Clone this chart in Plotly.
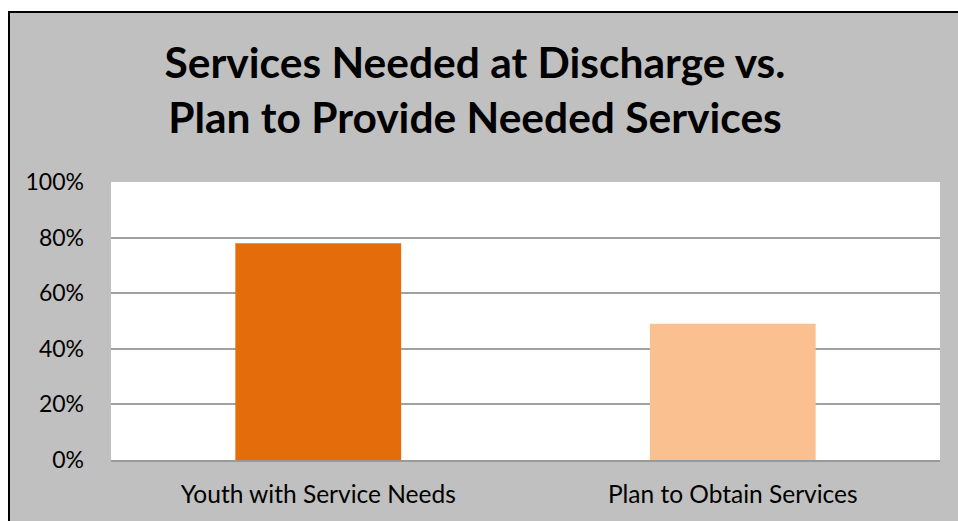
import plotly.graph_objects as go

categories = ["Youth with Service Needs", "Plan to Obtain Services"]
values = [0.78, 0.49]
bar_colors = ["#E46C0A", "#FAC090"]
tick_vals = [0, 0.2, 0.4, 0.6, 0.8, 1.0]
tick_text = ["0%", "20%", "40%", "60%", "80%", "100%"]

W, H = 958, 521
L, R, T, B = 111, 18, 182, 61
pw, ph = W - L - R, H - T - B

def px(x):
    return (x - L) / pw

def py(y):
    return 1 - (y - T) / ph

fig = go.Figure(go.Bar(
    x=categories, y=values,
    marker=dict(color=bar_colors, line=dict(width=0)),
    hoverinfo="skip",
))

shapes = [
    # white strips outside the chart frame
    dict(type="rect", xref="paper", yref="paper", x0=px(-5), x1=px(8), y0=py(H + 5), y1=py(-5),
         fillcolor="white", line=dict(width=0), layer="above"),
    dict(type="rect", xref="paper", yref="paper", x0=px(-5), x1=px(W + 5), y0=py(11), y1=py(-5),
         fillcolor="white", line=dict(width=0), layer="above"),
    # black frame edges
    dict(type="line", xref="paper", yref="paper", x0=px(9), x1=px(9), y0=py(11), y1=py(H + 5),
         line=dict(color="black", width=2), layer="above"),
    dict(type="line", xref="paper", yref="paper", x0=px(8), x1=px(W + 5), y0=py(12), y1=py(12),
         line=dict(color="black", width=2), layer="above"),
]

fig.update_layout(
    width=W, height=H,
    margin=dict(l=L, r=R, t=T, b=B),
    paper_bgcolor="#C0C0C0",
    plot_bgcolor="white",
    bargap=0.6,
    showlegend=False,
    shapes=shapes,
    font=dict(family="Lato, Open Sans, sans-serif", color="black"),
    title=dict(
        text="<b>Services Needed at Discharge vs.<br>Plan to Provide Needed Services</b>",
        x=475 / W, xref="container", xanchor="center",
        y=1 - 78 / H, yanchor="middle",
        font=dict(size=42.5, family="Lato, Open Sans, sans-serif", color="black"),
    ),
    xaxis=dict(
        showgrid=False, showline=True, linecolor="#999999", linewidth=2,
        ticks="", tickfont=dict(size=24.5), fixedrange=True,
        ticklabelstandoff=12,
    ),
    yaxis=dict(
        range=[0, 1.0], tickvals=tick_vals, ticktext=tick_text,
        showgrid=True, gridcolor="#A0A0A0", gridwidth=2,
        zeroline=False, showline=False, ticks="",
        ticklabelstandoff=26,
        tickfont=dict(size=23), fixedrange=True,
    ),
)

fig.write_html("out.html")
